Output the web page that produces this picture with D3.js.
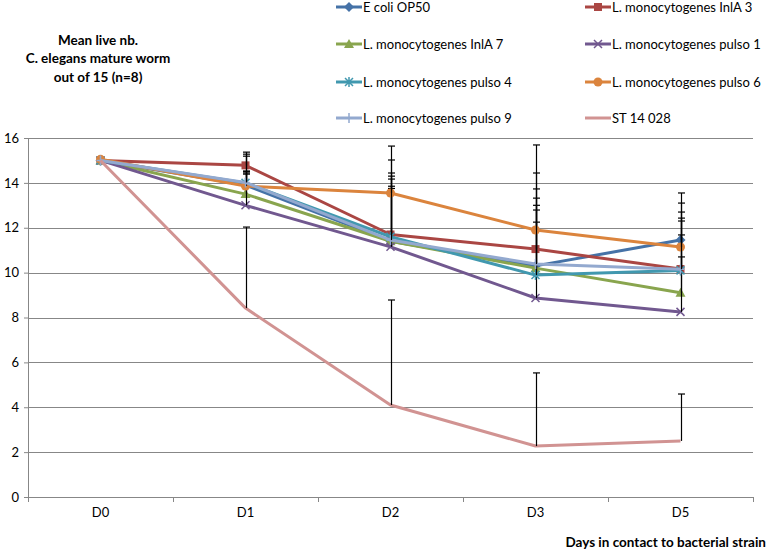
<!DOCTYPE html>
<html><head><meta charset="utf-8">
<script src="https://cdn.jsdelivr.net/npm/d3@7"></script>
<style>
html,body{margin:0;padding:0;background:#fff;}
svg{display:block;font-family:"Lato","Open Sans",sans-serif;}
</style></head>
<body><svg id="c" width="767" height="549"></svg>
<script>
const days = ["D0","D1","D2","D3","D5"];
const yTicks = [0,2,4,6,8,10,12,14,16];
const seriesNames = ["E coli OP50","L. monocytogenes InlA 3","L. monocytogenes InlA 7","L. monocytogenes pulso 1","L. monocytogenes pulso 4","L. monocytogenes pulso 6","L. monocytogenes pulso 9","ST 14 028"];
const seriesColors = ["#4572A7","#AA4643","#89A54E","#71588F","#4198AF","#DB843D","#93A9CF","#D19392"];
const seriesMarkers = ["diamond","square","triangle","x","star","circle","plus","none"];
// mean values per series
const ecoli   = [15.0, 13.9, 11.4, 10.3, 11.45];
const inla3   = [15.0, 14.78, 11.7, 11.05, 10.16];
const inla7   = [15.0, 13.5, 11.4, 10.2, 9.1];
const pulso1  = [15.0, 13.0, 11.15, 8.87, 8.25];
const pulso4  = [15.0, 14.0, 11.6, 9.89, 10.1];
const pulso6  = [15.05, 13.86, 13.55, 11.9, 11.14];
const pulso9  = [15.0, 14.02, 11.45, 10.38, 10.15];
const st14028 = [15.0, 8.42, 4.1, 2.27, 2.5];
// upper error bar (standard deviation) per series
const ecoliErr   = [0, 0.63, 2.77, 3.02, 1.25];
const inla3Err   = [0, 0.59, 3.32, 3.39, 2.14];
const inla7Err   = [0, 0.94, 2.45, 2.59, 1.6];
const pulso1Err  = [0, 1.39, 2.6, 3.38, 3.43];
const pulso4Err  = [0, 1.28, 2.84, 3.11, 2.33];
const pulso6Err  = [0, 1.33, 2.09, 3.79, 2.41];
const pulso9Err  = [0, 0.48, 2.85, 3.35, 2.95];
const st14028Err = [0, 3.61, 4.68, 3.26, 2.09];

const means = [ecoli, inla3, inla7, pulso1, pulso4, pulso6, pulso9, st14028];
const errs  = [ecoliErr, inla3Err, inla7Err, pulso1Err, pulso4Err, pulso6Err, pulso9Err, st14028Err];

const svg = d3.select("#c");
const pLeft = 28, pRight = 753, pTop = 138, pBottom = 497;
const x = d3.scaleBand().domain(days).range([pLeft, pRight]);
const y = d3.scaleLinear().domain([0,16]).range([pBottom, pTop]);
const cx = d => x(d) + x.bandwidth()/2;
const grid = "#878787";
const fs = 13;

// gridlines
svg.append("g").selectAll("line").data(yTicks.filter(t=>t>0)).join("line")
  .attr("x1", pLeft).attr("x2", pRight).attr("y1", d=>Math.round(y(d))+0.5).attr("y2", d=>Math.round(y(d))+0.5)
  .attr("stroke", grid).attr("stroke-width", 1);

// y axis
const yAxis = svg.append("g").attr("transform", `translate(${pLeft},0)`)
  .call(d3.axisLeft(y).tickValues(yTicks).tickSize(4).tickPadding(5));
yAxis.select(".domain").attr("stroke", grid);
yAxis.selectAll(".tick line").attr("stroke", grid);
yAxis.selectAll("text").attr("font-size", fs).attr("fill", "#000").attr("font-family", "Lato");

// x axis
const xAxis = svg.append("g").attr("transform", `translate(0,${pBottom})`)
  .call(d3.axisBottom(x).tickSize(0).tickPadding(11));
xAxis.select(".domain").attr("stroke", grid);
xAxis.selectAll("text").attr("font-size", fs).attr("fill", "#000").attr("font-family", "Lato");
// band boundary ticks
const bounds = days.map(d => x(d)).concat([pRight]);
svg.append("g").selectAll("line").data(bounds).join("line")
  .attr("x1", d=>Math.round(d)+0.5).attr("x2", d=>Math.round(d)+0.5).attr("y1", pBottom).attr("y2", pBottom+5)
  .attr("stroke", grid);

// marker drawing
function marker(g, type, color, px, py) {
  const s = 4;
  if (type === "diamond") {
    g.append("path").attr("d", `M${px},${py-s-1}L${px+s+1},${py}L${px},${py+s+1}L${px-s-1},${py}Z`).attr("fill", color);
  } else if (type === "square") {
    g.append("rect").attr("x", px-s).attr("y", py-s).attr("width", 2*s).attr("height", 2*s).attr("fill", color);
  } else if (type === "triangle") {
    g.append("path").attr("d", `M${px},${py-s-1}L${px+s+1},${py+s}L${px-s-1},${py+s}Z`).attr("fill", color);
  } else if (type === "circle") {
    g.append("circle").attr("cx", px).attr("cy", py).attr("r", s+0.5).attr("fill", color);
  } else if (type === "x") {
    g.append("path").attr("d", `M${px-s},${py-s}L${px+s},${py+s}M${px-s},${py+s}L${px+s},${py-s}`).attr("stroke", color).attr("stroke-width", 1.5);
  } else if (type === "star") {
    g.append("path").attr("d", `M${px-s},${py-s}L${px+s},${py+s}M${px-s},${py+s}L${px+s},${py-s}M${px},${py-s-1}L${px},${py+s+1}`).attr("stroke", color).attr("stroke-width", 1.5);
  } else if (type === "plus") {
    g.append("path").attr("d", `M${px},${py-s-1}L${px},${py+s+1}M${px-s},${py}L${px+s},${py}`).attr("stroke", color).attr("stroke-width", 1.5);
  }
}

const line = d3.line().x((d,i)=>cx(days[i])).y(d=>y(d));
means.forEach((vals, si) => {
  const g = svg.append("g");
  g.append("path").datum(vals).attr("d", line).attr("fill","none")
    .attr("stroke", seriesColors[si]).attr("stroke-width", 3).attr("stroke-linejoin","round");
  vals.forEach((v, i) => marker(g, seriesMarkers[si], seriesColors[si], cx(days[i]), y(v)));
  // error bars (upper)
  vals.forEach((v, i) => {
    const e = errs[si][i];
    if (!e) return;
    const px = Math.round(cx(days[i])) + 0.5;
    g.append("line").attr("x1", px).attr("x2", px).attr("y1", y(v)).attr("y2", y(v+e))
      .attr("stroke", "#000").attr("stroke-width", 1.2);
    g.append("line").attr("x1", px-3.5).attr("x2", px+3.5).attr("y1", y(v+e)).attr("y2", y(v+e))
      .attr("stroke", "#000").attr("stroke-width", 1.2);
  });
});

// title
const title = ["Mean live nb.", "C. elegans mature worm", "out of 15 (n=8)"];
svg.append("g").selectAll("text").data(title).join("text")
  .attr("x", 98).attr("y", (d,i)=>44.5 + i*18.5).attr("text-anchor","middle")
  .attr("font-size", 13.5).attr("font-weight","bold").attr("font-family","Lato").text(d=>d);

// x axis title
svg.append("text").attr("x", 766).attr("y", 546.5).attr("text-anchor","end")
  .attr("font-size", 13.5).attr("font-weight","bold").attr("font-family","Lato")
  .text("Days in contact to bacterial strain");

// legend
const leg = svg.append("g");
seriesNames.forEach((name, i) => {
  const col = i % 2, row = Math.floor(i / 2);
  const lx = col === 0 ? 336 : 585;
  const ly = [7, 44, 82, 118][row];
  const g = leg.append("g");
  g.append("line").attr("x1", lx).attr("x2", lx+26).attr("y1", ly).attr("y2", ly)
    .attr("stroke", seriesColors[i]).attr("stroke-width", 3);
  marker(g, seriesMarkers[i], seriesColors[i], lx+13, ly);
  g.append("text").attr("x", lx+27).attr("y", ly+4.5).attr("font-size", fs)
    .attr("font-family","Lato").text(name);
});
</script></body></html>
